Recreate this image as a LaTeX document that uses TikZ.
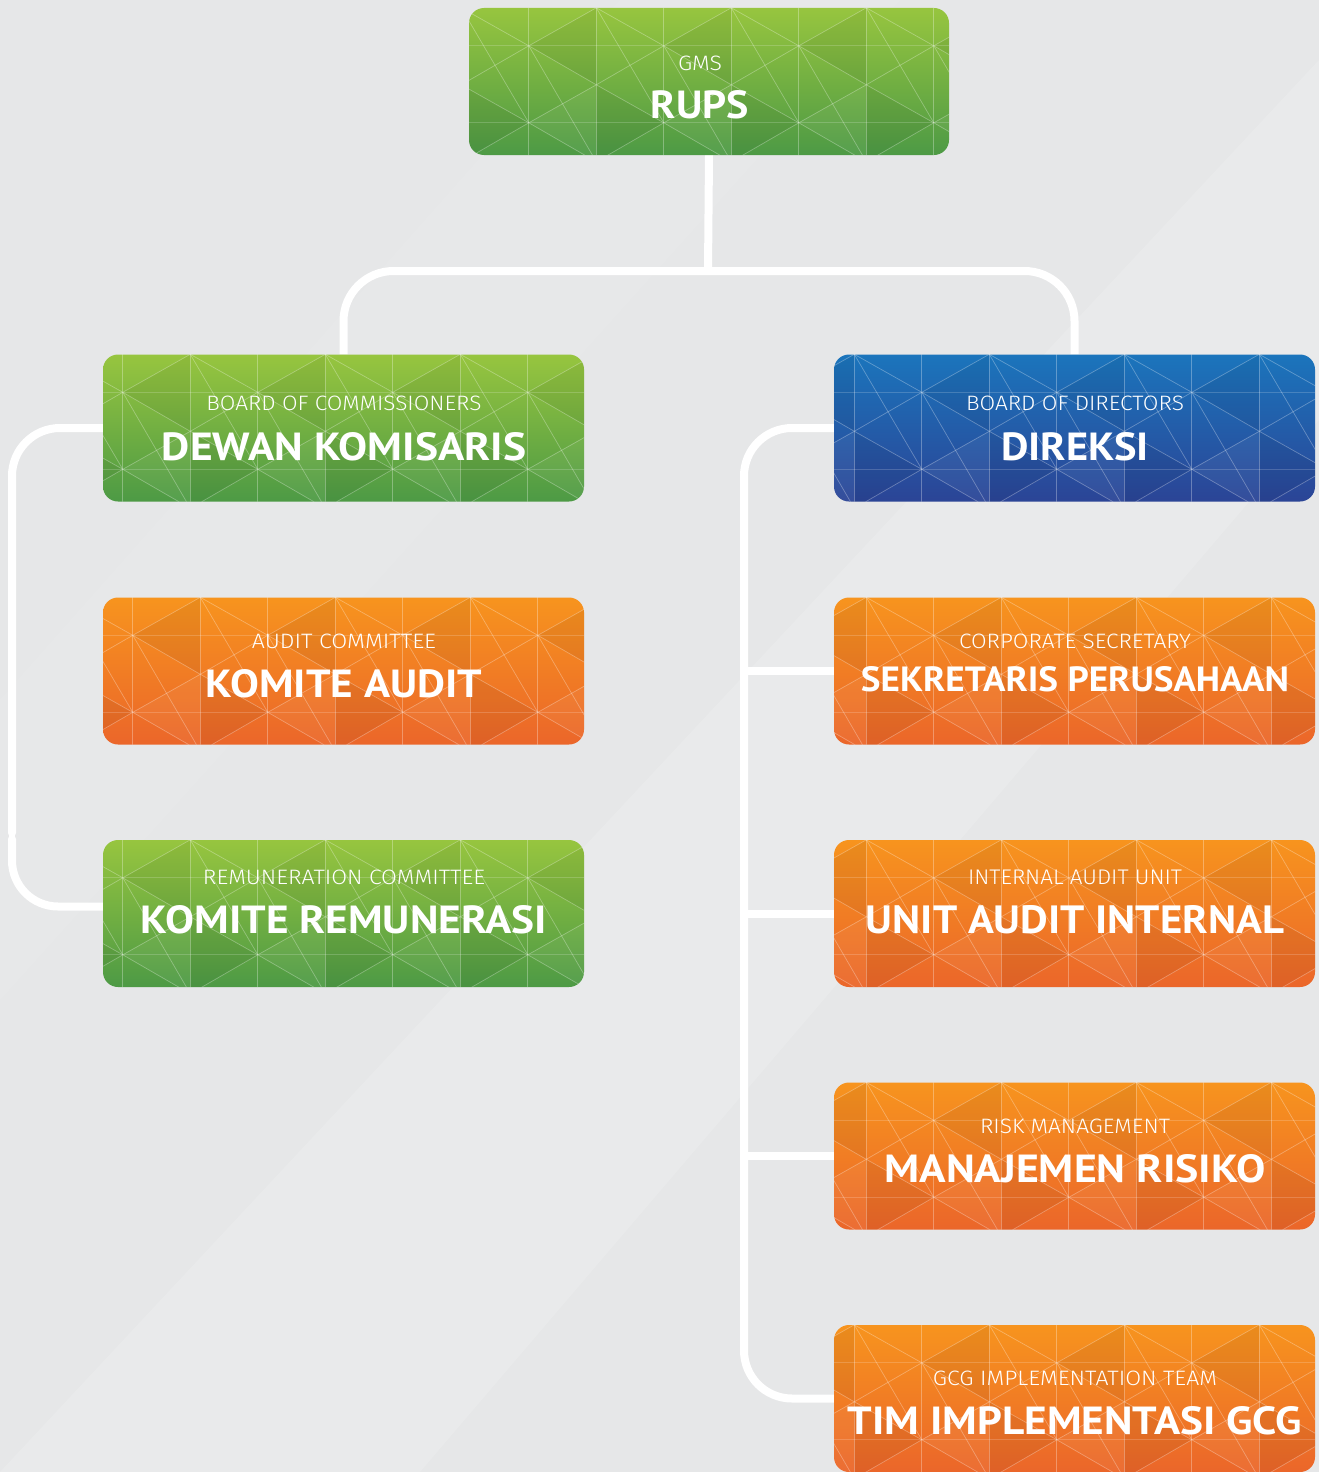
\documentclass[tikz,border=0pt]{standalone}
\usepackage{fontspec}
\newfontfamily\titlefont{PT Sans}
\newfontfamily\subfont{Fira Sans Light}
\usetikzlibrary{calc}
\pgfdeclarelayer{bglayer}
\pgfsetlayers{bglayer,main}
\definecolor{bgc}{HTML}{E6E7E8}
\definecolor{grT}{HTML}{97C53F}
\definecolor{grB}{HTML}{4D9A45}
\definecolor{blT}{HTML}{1B75BC}
\definecolor{blB}{HTML}{2B4496}
\definecolor{orT}{HTML}{F7941E}
\definecolor{orB}{HTML}{EB662A}
\newcommand\subtxt[2]{\resizebox{#1pt}{14.5pt}{\subfont #2}}
\newcommand\ttltxt[3]{\resizebox{#1pt}{#2pt}{\titlefont\bfseries #3}}
\newcommand\mesh[2]{%
\begin{scope}
\clip[rounded corners=15pt] (#1.north west) rectangle (#1.south east);
\begin{scope}[shift={(#1.north west)}]
\foreach \i in {-1,...,4}{
  \pgfmathsetmacro\xa{#2+135*\i}
  \pgfmathsetmacro\xl{\xa-67.5}
  \pgfmathsetmacro\xr{\xa+67.5}
  \fill[shadetri] (\xa,38) -- (\xr,0) -- (\xr,77) -- cycle;
  \fill[shadetri] (\xa,115) -- (\xl,77) -- (\xl,154) -- cycle;
  \fill[lighttri] (\xa,115) -- (\xr,77) -- (\xr,154) -- cycle;
  \draw[meshline] (\xa,-5) -- (\xa,160) (\xr,-5) -- (\xr,160);
  \draw[meshline] (\xl,0) -- (\xa,38) -- (\xr,0) (\xl,77) -- (\xa,38) -- (\xr,77)
                  (\xl,77) -- (\xa,115) -- (\xr,77) (\xl,154) -- (\xa,115) -- (\xr,154);
  \draw[meshline] (\xa,38) -- (\xr,154) (\xl,0) -- (\xa,115);
}
\draw[meshline, opacity=0.18] (-5,38) -- (490,38) (-5,115) -- (490,115);
\end{scope}
\end{scope}}
\begin{document}
\begin{tikzpicture}[x=1pt,y=-1pt,
  box/.style={rounded corners=15pt, minimum width=481pt, minimum height=147pt, inner sep=0pt, draw=none},
  gbox/.style={box, top color=grT, bottom color=grB},
  bbox/.style={box, top color=blT, bottom color=blB},
  obox/.style={box, top color=orT, bottom color=orB},
  conn/.style={draw=white, line width=8pt},
  meshline/.style={draw=white, opacity=0.3, line width=0.7pt},
  shadetri/.style={fill=black, opacity=0.05},
  lighttri/.style={fill=white, opacity=0.05},
  txt/.style={inner sep=0pt, text=white}]
\useasboundingbox (0,0) rectangle (1319,1472);

% boxes
\path (709,81.5) node[gbox, minimum width=480pt] (rups) {};
\path (343.5,428) node[gbox] (dk) {};
\path (1074.5,428) node[bbox] (dir) {};
\path (343.5,671) node[obox] (ka) {};
\path (1074.5,671) node[obox] (sek) {};
\path (343.5,913.5) node[gbox] (kr) {};
\path (1074.5,913.5) node[obox] (uai) {};
\path (1074.5,1156) node[obox] (mr) {};
\path (1074.5,1398.5) node[obox] (gcg) {};

% background and connectors underneath
\coordinate (j) at (708,271);
\coordinate (lrail) at (12,0);
\coordinate (rrail) at (744,0);
\coordinate (lgapA) at (12,833);
\coordinate (lgapB) at (12,839);
\coordinate (krin) at ($(kr.west)+(0,-7)$);
\begin{pgfonlayer}{bglayer}
\fill[bgc] (0,0) rectangle (1319,1472);
\fill[white, opacity=0.14] (0,1472) -- (420,1472) -- (1319,420) -- (1319,60) -- cycle;
\fill[white, opacity=0.08] (0,700) -- (0,1000) -- (900,0) -- (620,0) -- cycle;
% top tree
\draw[conn] (rups.south) -- (j);
\draw[conn, rounded corners=50pt] (dk.north) |- (j) -| (dir.north);
% left bracket (with the small break)
\draw[conn, rounded corners=48pt, line cap=round] (dk.west) -- (dk.west -| lrail) -- (lgapA);
\draw[conn, rounded corners=46pt, line cap=round] (lgapB) -- (krin -| lrail) -- (krin);
% right bracket
\draw[conn, rounded corners=48pt] (dir.west) -- (dir.west -| rrail) -- (gcg.west -| rrail) -- (gcg.west);
\draw[conn] (sek.west -| rrail) -- (sek.west);
\draw[conn] (uai.west -| rrail) -- (uai.west);
\draw[conn] (mr.west -| rrail) -- (mr.west);
\end{pgfonlayer}

% triangle texture
\mesh{rups}{60}
\mesh{dk}{20}
\mesh{dir}{88}
\mesh{ka}{30}
\mesh{sek}{100}
\mesh{kr}{20}
\mesh{uai}{100}
\mesh{mr}{100}
\mesh{gcg}{88}

% texts
\node[txt] (rups-s) at (700,63) {\subtxt{44}{GMS}};
\node[txt] (rups-t) at (700,105) {\ttltxt{98}{28}{RUPS}};
\node[txt] (dk-s) at (344,403) {\subtxt{275}{BOARD OF COMMISSIONERS}};
\node[txt] (dk-t) at (344,447) {\ttltxt{364}{28}{DEWAN KOMISARIS}};
\node[txt] (dir-s) at (1075,403) {\subtxt{218}{BOARD OF DIRECTORS}};
\node[txt] (dir-t) at (1075,447) {\ttltxt{148}{28}{DIREKSI}};
\node[txt] (ka-s) at (344,641) {\subtxt{184}{AUDIT COMMITTEE}};
\node[txt] (ka-t) at (344,684) {\ttltxt{276}{28}{KOMITE AUDIT}};
\node[txt] (sek-s) at (1075,641) {\subtxt{232}{CORPORATE SECRETARY}};
\node[txt] (sek-t) at (1075,679) {\ttltxt{428}{25}{SEKRETARIS PERUSAHAAN}};
\node[txt] (kr-s) at (344,877) {\subtxt{282}{REMUNERATION COMMITTEE}};
\node[txt] (kr-t) at (344,920) {\ttltxt{406}{28}{KOMITE REMUNERASI}};
\node[txt] (uai-s) at (1075,877) {\subtxt{214}{INTERNAL AUDIT UNIT}};
\node[txt] (uai-t) at (1075,920) {\ttltxt{418}{28}{UNIT AUDIT INTERNAL}};
\node[txt] (mr-s) at (1075,1126) {\subtxt{190}{RISK MANAGEMENT}};
\node[txt] (mr-t) at (1075,1169) {\ttltxt{381}{28}{MANAJEMEN RISIKO}};
\node[txt] (gcg-s) at (1075,1378) {\subtxt{284}{GCG IMPLEMENTATION TEAM}};
\node[txt] (gcg-t) at (1075,1421) {\ttltxt{454}{28}{TIM IMPLEMENTASI GCG}};
\end{tikzpicture}
\end{document}
